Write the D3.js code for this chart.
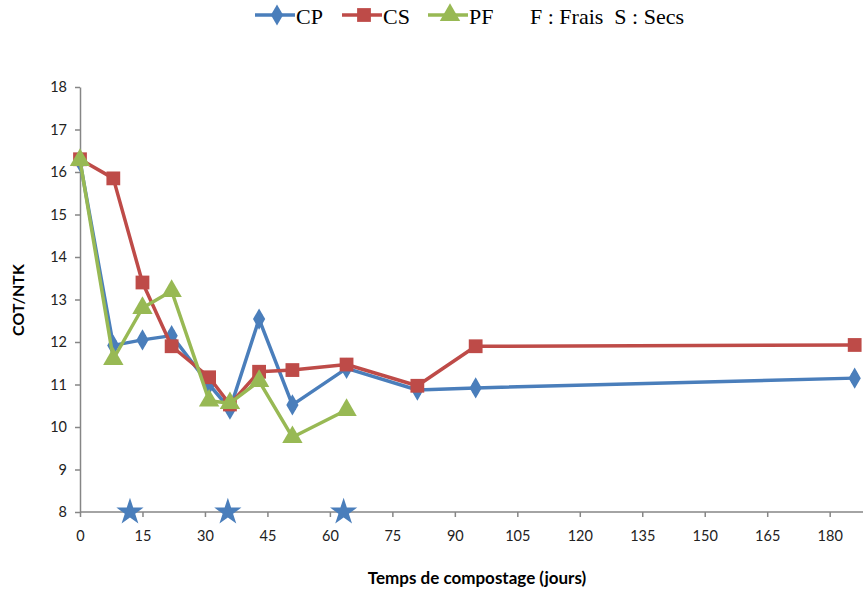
<!DOCTYPE html>
<html><head><meta charset="utf-8">
<script src="https://cdn.jsdelivr.net/npm/d3@7"></script>
<style>body{margin:0;background:#fff}svg{display:block}</style>
</head><body>
<svg id="c" width="863" height="594"></svg>
<script>
const days = [0, 8, 15, 22, 31, 36, 43, 51, 64, 81, 95, 186];
const cp = [16.25, 11.92, 12.05, 12.15, 11.0, 10.42, 12.54, 10.52, 11.38, 10.87, 10.92, 11.15];
const cs = [16.3, 15.85, 13.4, 11.9, 11.17, 10.53, 11.3, 11.34, 11.47, 10.97, 11.9, 11.93];
const pf = [16.28, 11.6, 12.8, 13.2, 10.62, 10.56, 11.08, 9.76, 10.4];
const errHalf = [0.1, 0.1, 0.1];
const starDays = [12, 35.5, 63.3];
const xTicks = [0, 15, 30, 45, 60, 75, 90, 105, 120, 135, 150, 165, 180];
const yTicks = [8, 9, 10, 11, 12, 13, 14, 15, 16, 17, 18];
const seriesNames = ["CP", "CS", "PF"];
const colors = ["#4a7ebb", "#be4b48", "#98b954"];

const svg = d3.select("#c");
const x = d3.scaleLinear().domain([0, 188]).range([80, 863]);
const y = d3.scaleLinear().domain([8, 18]).range([512, 87]);
const axisCol = "#868686";

// axes
const gy = svg.append("g").attr("transform", "translate(80,0)")
  .call(d3.axisLeft(y).tickValues(yTicks).tickSize(5).tickSizeOuter(0).tickPadding(8));
const gx = svg.append("g").attr("transform", "translate(0,512)")
  .call(d3.axisBottom(x).tickValues(xTicks).tickSize(5).tickSizeOuter(0).tickPadding(14));
[gx, gy].forEach(g => {
  g.selectAll("path,line").attr("stroke", axisCol).attr("stroke-width", 1.5);
  g.selectAll("text").attr("font-family", "Lato, 'Open Sans', sans-serif").attr("font-size", 14.5).attr("fill", "#222");
});
gx.select(".domain").attr("d", "M80,0H863");

svg.append("text").attr("x", 477).attr("y", 584).attr("text-anchor", "middle")
  .attr("font-family", "Lato, sans-serif").attr("font-weight", "bold").attr("font-size", 17).text("Temps de compostage (jours)");
svg.append("text").attr("transform", "translate(24,300) rotate(-90)").attr("text-anchor", "middle")
  .attr("font-family", "Lato, sans-serif").attr("font-weight", "bold").attr("font-size", 16).text("COT/NTK");

// series
const data = [cp, cs, pf];
const line = d3.line().x(d => x(d[0])).y(d => y(d[1]));
const sym = [d3.symbolDiamond, d3.symbolSquare, d3.symbolTriangle];
const symSize = [130, 190, 180];
data.forEach((vals, i) => {
  const pts = vals.map((v, j) => [days[j], v]);
  svg.append("path").attr("d", line(pts)).attr("fill", "none")
    .attr("stroke", colors[i]).attr("stroke-width", 3.5).attr("stroke-linejoin", "round");
  // small error bars
  const eb = svg.append("g").attr("stroke", "#000").attr("stroke-width", 1.3);
  pts.forEach(d => {
    const cx = x(d[0]), y1 = y(d[1] - errHalf[i]), y2 = y(d[1] + errHalf[i]);
    eb.append("path").attr("d", `M${cx},${y1}V${y2}M${cx - 3},${y1}H${cx + 3}M${cx - 3},${y2}H${cx + 3}`);
  });
  svg.append("g").selectAll("path").data(pts).join("path")
    .attr("transform", d => `translate(${x(d[0])},${y(d[1])})`)
    .attr("d", d3.symbol().type(sym[i]).size(symSize[i])())
    .attr("fill", colors[i]);
});

// stars
svg.append("g").selectAll("path").data(starDays).join("path")
  .attr("transform", d => `translate(${x(d)},${y(8)})`)
  .attr("d", d3.symbol().type(d3.symbolStar).size(230)())
  .attr("fill", "#4a7ebb");

// legend
const lg = svg.append("g");
const lx = [255, 342, 428];
seriesNames.forEach((n, i) => {
  lg.append("line").attr("x1", lx[i]).attr("x2", lx[i] + 40).attr("y1", 15).attr("y2", 15)
    .attr("stroke", colors[i]).attr("stroke-width", 3.5);
  lg.append("path").attr("transform", `translate(${lx[i] + 22},15)`)
    .attr("d", d3.symbol().type(sym[i]).size(symSize[i])()).attr("fill", colors[i]);
  lg.append("text").attr("x", lx[i] + 41).attr("y", 24).attr("font-family", "'Liberation Serif', serif")
    .attr("font-size", 22).text(n);
});
lg.append("text").attr("x", 530).attr("y", 24).attr("font-family", "'Liberation Serif', serif")
  .attr("font-size", 22).attr("xml:space", "preserve").style("white-space", "pre").text("F : Frais  S : Secs");
</script>
</body></html>
